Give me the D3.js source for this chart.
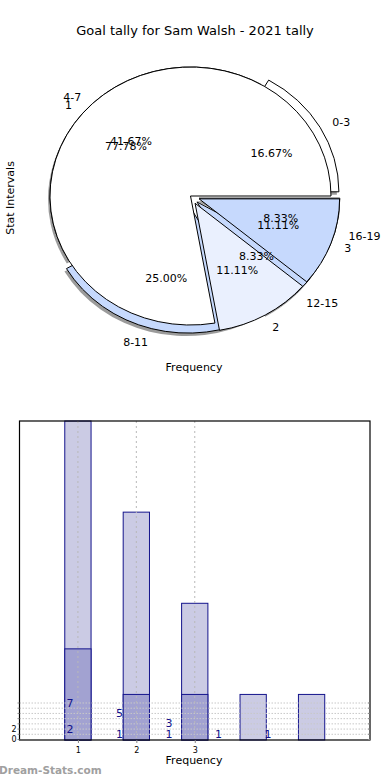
<!DOCTYPE html>
<html><head><meta charset="utf-8">
<script src="https://cdn.jsdelivr.net/npm/d3@7"></script>
<style>
body{margin:0;background:#fff;}
text{font-family:"DejaVu Sans",sans-serif;}
</style></head>
<body><svg id="c" width="390" height="780"></svg>
<script>
// ---- data ----
const title = "Goal tally for Sam Walsh - 2021 tally";
const pieALabels = ["0-3","4-7","8-11","12-15","16-19"];
const pieAValues = [2,5,3,1,1];
const pieBLabels = ["1","2","3"];
const pieBValues = [7,1,1];
const barCategories = [1,2,3,4,5];
const barTotals = [7,5,3,1,1];
const barInner = [2,1,1];
const xTickValues = [1,2,3];
const yTickLabels = ["0","2"];

// ---- styles ----
const pieAExplode = [0.065,0,0.065,0.065,0.065];
const pieBExplode = [0,0.065,0.065];
const pieAColors = ["#ffffff","#ffffff","#c6d9fd","#c6d9fd","#c6d9fd"];
const pieBColors = ["#ffffff","#eaf0fe","#c6d9fd"];

const svg = d3.select("#c");
svg.append("text").attr("x",195).attr("y",35).attr("text-anchor","middle")
  .attr("font-size",13).text(title);

// ---- pie part ----
const cx = 190.5, cy = 196, rx = 140.5, ry = 129;
const pie = d3.pie().sort(null).value(d=>d);
const arc = d3.arc().innerRadius(0).outerRadius(1);
function geom(values, explode){
  return pie(values).map((p,i)=>{
    const s = p.startAngle, e = p.endAngle; // math angles ccw from 3 o'clock
    const mid = (s+e)/2;
    const ex = explode[i];
    const sx = ex*rx*Math.cos(mid), sy = -ex*ry*Math.sin(mid);
    return {i, s, e, mid, sx, sy, path: arc({startAngle:Math.PI/2-e, endAngle:Math.PI/2-s})};
  });
}
const gA = geom(pieAValues, pieAExplode);
const gB = geom(pieBValues, pieBExplode);
const pg = svg.append("g");
// shadow
pg.selectAll("path.sh").data(gA).join("path").attr("class","sh")
  .attr("d",d=>d.path)
  .attr("transform",d=>`translate(${cx+d.sx-2},${cy+d.sy+3}) scale(${rx},${ry})`)
  .attr("fill","#7a7a7a").attr("fill-opacity",0.75).attr("stroke","none");
pg.selectAll("path.a").data(gA).join("path").attr("class","a")
  .attr("d",d=>d.path)
  .attr("transform",d=>`translate(${cx+d.sx},${cy+d.sy}) scale(${rx},${ry})`)
  .attr("fill",d=>pieAColors[d.i]).attr("stroke","#000").attr("stroke-width",1)
  .attr("vector-effect","non-scaling-stroke").attr("stroke-linejoin","miter");
pg.selectAll("path.b").data(gB).join("path").attr("class","b")
  .attr("d",d=>d.path)
  .attr("transform",d=>`translate(${cx+d.sx},${cy+d.sy}) scale(${rx},${ry})`)
  .attr("fill",d=>pieBColors[d.i]).attr("stroke","#000").attr("stroke-width",1)
  .attr("vector-effect","non-scaling-stroke");
function labels(g, texts, dist, pct, offsetY){
  pg.selectAll(null).data(g).join("text")
    .attr("x",d=>cx+d.sx+dist*rx*Math.cos(d.mid))
    .attr("y",d=>cy+d.sy-dist*ry*Math.sin(d.mid)+offsetY)
    .attr("text-anchor",d=> pct ? "middle" : (Math.cos(d.mid)>=0?"start":"end"))
    .attr("dominant-baseline","central")
    .attr("font-size",11).text(d=>texts[d.i]);
}
const tot = a=>d3.sum(a);
labels(gA, pieALabels, 1.1, false, 1.5);
labels(gB, pieBLabels, 1.1, false, 1);
labels(gA, pieAValues.map(v=>(v/tot(pieAValues)*100).toFixed(2)+"%"), 0.6, true, 0);
labels(gB, pieBValues.map(v=>(v/tot(pieBValues)*100).toFixed(2)+"%"), 0.6, true, 0);
svg.append("text").attr("x",194).attr("y",367).attr("text-anchor","middle")
  .attr("dominant-baseline","central").attr("font-size",11).text("Frequency");
svg.append("text").attr("transform","translate(10,198) rotate(-90)")
  .attr("text-anchor","middle").attr("dominant-baseline","central")
  .attr("font-size",11).text("Stat Intervals");

// ---- bar part ----
const L=19.5, R=370, T=421, B=740;
const x = d3.scaleLinear().domain([0,6]).range([L,R]);
const y = d3.scaleLinear().domain([0,7]).range([B,T]);
const yLab = d3.scaleLinear().domain([0,7]).range([739.5,703]);
const xLab = d3.scaleLinear().domain([1,5]).range([70,268]);
const bw = 0.45;
const bg = svg.append("g");
bg.selectAll("rect.o").data(barTotals).join("rect").attr("class","o")
  .attr("x",(d,i)=>x(barCategories[i]-bw/2)).attr("width",x(bw)-x(0))
  .attr("y",d=>y(d)).attr("height",d=>B-y(d))
  .attr("fill","#cbcbe4").attr("stroke","#14148c").attr("stroke-width",1);
bg.selectAll("rect.i").data(barInner).join("rect").attr("class","i")
  .attr("x",(d,i)=>x(barCategories[i]-bw/2)).attr("width",x(bw)-x(0))
  .attr("y",d=>y(d)).attr("height",d=>B-y(d))
  .attr("fill","#a2a2d1").attr("stroke","#14148c").attr("stroke-width",1);
// grids
const gridY = d3.range(1,8).map(k=>yLab(k));
bg.selectAll("line.gy").data(gridY).join("line").attr("class","gy")
  .attr("x1",L).attr("x2",R).attr("y1",d=>d).attr("y2",d=>d)
  .attr("stroke","#c8c8c8").attr("stroke-width",1).attr("stroke-dasharray","1.5,1.5");
bg.selectAll("line.gx").data(xTickValues).join("line").attr("class","gx")
  .attr("x1",d=>x(d)).attr("x2",d=>x(d)).attr("y1",T).attr("y2",B)
  .attr("stroke","#b8b8b8").attr("stroke-width",1).attr("stroke-dasharray","2,3");
// frame
bg.append("rect").attr("x",L).attr("y",T).attr("width",R-L).attr("height",B-T)
  .attr("fill","none").attr("stroke","#000").attr("stroke-width",1.2);
// x axis ticks
const xa = d3.axisBottom(x).tickValues(xTickValues).tickSize(3).tickFormat(d3.format("d"));
const xg = bg.append("g").attr("transform",`translate(0,${B})`).call(xa);
xg.select(".domain").remove();
xg.selectAll("text").attr("font-size",8).attr("font-family","DejaVu Sans").attr("dy","0.9em");
xg.selectAll("line").attr("stroke","#888");
// y tick labels
bg.selectAll("text.yt").data(yTickLabels).join("text").attr("class","yt")
  .attr("x",L-3).attr("y",d=>yLab(+d)).attr("text-anchor","end")
  .attr("dominant-baseline","central").attr("font-size",8).text(d=>d);
bg.selectAll("line.yt").data(d3.range(0,8)).join("line").attr("class","yt")
  .attr("x1",L-2).attr("x2",L).attr("y1",d=>yLab(d)).attr("y2",d=>yLab(d))
  .attr("stroke","#888");
bg.selectAll("line.ytr").data(d3.range(0,8)).join("line").attr("class","ytr")
  .attr("x1",R-2).attr("x2",R).attr("y1",d=>yLab(d)).attr("y2",d=>yLab(d))
  .attr("stroke","#888");
// value labels
bg.selectAll("text.vo").data(barTotals).join("text").attr("class","vo")
  .attr("x",(d,i)=>xLab(barCategories[i])).attr("y",d=>yLab(d))
  .attr("text-anchor","middle").attr("dominant-baseline","central")
  .attr("font-size",11).attr("fill","#10108a").text(d=>d);
bg.selectAll("text.vi").data(barInner).join("text").attr("class","vi")
  .attr("x",(d,i)=>xLab(barCategories[i])).attr("y",d=>yLab(d))
  .attr("text-anchor","middle").attr("dominant-baseline","central")
  .attr("font-size",11).attr("fill","#10108a").text(d=>d);
svg.append("text").attr("x",194).attr("y",760).attr("text-anchor","middle")
  .attr("dominant-baseline","central").attr("font-size",11).text("Frequency");
svg.append("text").attr("x",-1).attr("y",770).attr("dominant-baseline","central")
  .attr("font-size",10.5).attr("font-weight","bold").attr("fill","#a0a0a0").text("Dream-Stats.com");
</script></body></html>
